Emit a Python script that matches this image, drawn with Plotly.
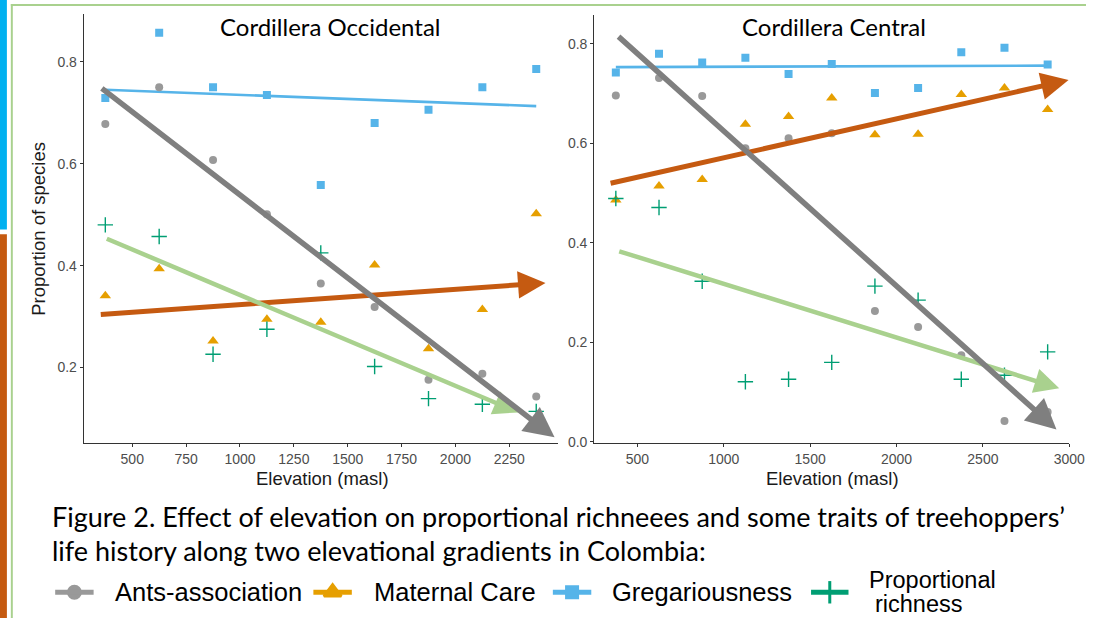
import plotly.graph_objects as go

W, H = 1102, 625

# ---------------- data ----------------
elev_occ = [375, 625, 875, 1125, 1375, 1625, 1875, 2125, 2375]
ants_occ = [0.678, 0.750, 0.607, 0.501, 0.365, 0.319, 0.176, 0.188, 0.143]
mat_occ = [0.341, 0.394, 0.252, 0.295, 0.289, 0.401, 0.237, 0.314, 0.502]
greg_occ = [0.729, 0.857, 0.750, 0.735, 0.558, 0.680, 0.706, 0.750, 0.786]
rich_occ = [0.480, 0.457, 0.226, 0.275, 0.425, 0.202, 0.139, 0.128, 0.114]

elev_cen = [375, 625, 875, 1125, 1375, 1625, 1875, 2125, 2375, 2625, 2875]
ants_cen = [0.696, 0.731, 0.695, 0.590, 0.610, 0.620, 0.263, 0.231, 0.174, 0.042, 0.060]
mat_cen = [0.486, 0.514, 0.527, 0.638, 0.654, 0.691, 0.617, 0.618, 0.698, 0.711, 0.668]
greg_cen = [0.742, 0.780, 0.762, 0.772, 0.739, 0.759, 0.701, 0.711, 0.783, 0.792, 0.758]
rich_cen = [0.489, 0.471, 0.323, 0.121, 0.126, 0.160, 0.313, 0.285, 0.126, 0.134, 0.181]

# fitted gregariousness lines (start, end)
greg_fit_x_occ = [375, 2375]
greg_fit_y_occ = [0.745, 0.713]
greg_fit_x_cen = [375, 2875]
greg_fit_y_cen = [0.753, 0.756]

# trend arrows: (x_tail, y_tail, x_head, y_head)
arrows_occ = {
    "ants": (352, 0.750, 2460, 0.063),
    "mat": (347, 0.304, 2418, 0.366),
    "rich": (375, 0.454, 2292, 0.112),
}
arrows_cen = {
    "ants": (382, 0.817, 2926, 0.025),
    "mat": (336, 0.519, 2996, 0.727),
    "rich": (386, 0.384, 2942, 0.108),
}

xticks_occ = [500, 750, 1000, 1250, 1500, 1750, 2000, 2250]
xticks_cen = [500, 1000, 1500, 2000, 2500, 3000]
yticks_occ = [0.2, 0.4, 0.6, 0.8]
yticks_cen = [0.0, 0.2, 0.4, 0.6, 0.8]

series_names = ["Ants-association", "Maternal Care", "Gregariousness", "Proportional<br>richness"]

# ---------------- styles ----------------
C_ANTS, C_MAT, C_GREG, C_RICH = "#999999", "#E69F00", "#56B4E9", "#009E73"
A_ANTS, A_MAT, A_RICH = "#7F7F7F", "#C55A11", "#A9D18E"
FONT = "Liberation Sans, Arial, sans-serif"
CAL = "Lato, Carlito, Calibri, sans-serif"


def px(x):
    return x / W


def py(y):
    return 1 - y / H


fig = go.Figure()


def add_points(xs, ys, color, symbol, size, xa, ya, lw=0):
    fig.add_trace(go.Scatter(
        x=xs, y=ys, mode="markers", xaxis=xa, yaxis=ya, showlegend=False,
        marker=dict(color=color, symbol=symbol, size=size,
                    line=dict(width=lw, color=color)),
        hoverinfo="skip"))


for xa, ya, e, ants, mat, greg, rich, fx, fy in [
    ("x", "y", elev_occ, ants_occ, mat_occ, greg_occ, rich_occ, greg_fit_x_occ, greg_fit_y_occ),
    ("x2", "y2", elev_cen, ants_cen, mat_cen, greg_cen, rich_cen, greg_fit_x_cen, greg_fit_y_cen),
]:
    fig.add_trace(go.Scatter(x=fx, y=fy, mode="lines", xaxis=xa, yaxis=ya,
                             line=dict(color=C_GREG, width=2.6), showlegend=False,
                             hoverinfo="skip"))
    add_points(e, ants, C_ANTS, "circle", 8, xa, ya)
    add_points(e, mat, C_MAT, "triangle-up", 10, xa, ya)
    add_points(e, greg, C_GREG, "square", 8, xa, ya)
    add_points(e, rich, C_RICH, "cross-thin", 11, xa, ya, lw=1.4)

annotations = []
for xr, yr, arr in [("x", "y", arrows_occ), ("x2", "y2", arrows_cen)]:
    for key, col, wdt in [("mat", A_MAT, 5), ("rich", A_RICH, 4.5), ("ants", A_ANTS, 5.5)]:
        x0, y0, x1, y1 = arr[key]
        annotations.append(dict(
            x=x1, y=y1, ax=x0, ay=y0, xref=xr, yref=yr, axref=xr, ayref=yr,
            text="", showarrow=True, arrowhead=2, arrowsize=1.1,
            arrowwidth=wdt, arrowcolor=col, standoff=0))


def txt(text, x, y, size, family=FONT, color="#000000", xanchor="center", angle=0):
    annotations.append(dict(text=text, x=px(x), y=py(y), xref="paper", yref="paper",
                            xanchor=xanchor, yanchor="middle", showarrow=False, textangle=angle,
                            font=dict(family=family, size=size, color=color)))


# panel titles
txt("Cordillera Occidental", 335, 27, 24, family=CAL)
txt("Cordillera Central", 846, 27, 24, family=CAL)

# axis titles
txt("Elevation (masl)", 327, 484, 18.5, color="#1A1A1A")
txt("Elevation (masl)", 845, 484, 18.5, color="#1A1A1A")
txt("Proportion of species", 39, 231, 18.5, color="#1A1A1A", angle=-90)

# caption
txt("Figure 2. Effect of elevation on proportional richneees and some traits of treehoppers’",
    51, 522, 27, family=CAL, xanchor="left")
txt("life history along two elevational gradients in Colombia:",
    51, 557, 27, family=CAL, xanchor="left")

# legend (manual)
leg_items = [
    (56, 95, 115, C_ANTS, "circle", 12, series_names[0]),
    (318, 357, 377, C_MAT, "triangle-up", 15, series_names[1]),
    (561, 600, 619, C_GREG, "square", 11, series_names[2]),
    (823, 861, 880, C_RICH, "line-ns", 16, series_names[3]),
]
shapes = []
leg_y = 599
for x0, x1, tx, col, sym, sz, name in leg_items:
    shapes.append(dict(type="line", xref="paper", yref="paper", x0=px(x0), x1=px(x1),
                       y0=py(leg_y), y1=py(leg_y), line=dict(color=col, width=5)))
    fig.add_trace(go.Scatter(x=[(x0 + x1) / 2], y=[leg_y], mode="markers", xaxis="x3", yaxis="y3",
                             showlegend=False, hoverinfo="skip",
                             marker=dict(color=col, symbol=sym, size=sz, line=dict(color=col, width=3))))
    if "<br>" in name:
        top, bottom = name.split("<br>")
        txt(top, tx, 587, 23.5, xanchor="left")
        txt(bottom, tx + 6, 611, 23.5, xanchor="left")
    else:
        txt(name, tx, leg_y, 25.5, xanchor="left")

# decorative frame
shapes += [
    dict(type="rect", xref="paper", yref="paper", x0=px(0), x1=px(7), y0=py(0), y1=py(232),
         fillcolor="#00B0F0", line=dict(width=0)),
    dict(type="rect", xref="paper", yref="paper", x0=px(0), x1=px(7), y0=py(237), y1=py(625),
         fillcolor="#C55A11", line=dict(width=0)),
    dict(type="rect", xref="paper", yref="paper", x0=px(11), x1=px(13), y0=py(4), y1=py(625),
         fillcolor="#A9D18E", line=dict(width=0)),
    dict(type="rect", xref="paper", yref="paper", x0=px(11), x1=px(1102), y0=py(4), y1=py(6),
         fillcolor="#A9D18E", line=dict(width=0)),
]

axis_common = dict(showline=True, linecolor="#333333", linewidth=1.2, ticks="outside",
                   ticklen=3, tickwidth=1, tickcolor="#333333", showgrid=False, zeroline=False,
                   tickfont=dict(family=FONT, size=14, color="#4D4D4D"), mirror=False)

fig.update_layout(
    width=W, height=H, autosize=False,
    margin=dict(l=0, r=0, t=0, b=0),
    paper_bgcolor="white", plot_bgcolor="rgba(0,0,0,0)",
    showlegend=False,
    xaxis=dict(domain=[px(85), px(566)], range=[275, 2475], tickvals=xticks_occ, anchor="y", **axis_common),
    yaxis=dict(domain=[py(448), py(14)], range=[0.052, 0.894], tickvals=yticks_occ,
               tickformat=".1f", anchor="x", **axis_common),
    xaxis2=dict(domain=[px(603), px(1085)], range=[250, 3000], tickvals=xticks_cen, anchor="y2", **axis_common),
    yaxis2=dict(domain=[py(448), py(15)], range=[-0.002, 0.858], tickvals=yticks_cen,
                tickformat=".1f", anchor="x2", **axis_common),
    xaxis3=dict(domain=[0, 1], range=[0, W], visible=False, anchor="y3", fixedrange=True),
    yaxis3=dict(domain=[0, 1], range=[H, 0], visible=False, anchor="x3", fixedrange=True),
    annotations=annotations,
    shapes=shapes,
)

fig.write_html("out.html", config={"displayModeBar": False},
               post_script="document.body.style.margin='0';document.body.style.overflow='hidden';")
